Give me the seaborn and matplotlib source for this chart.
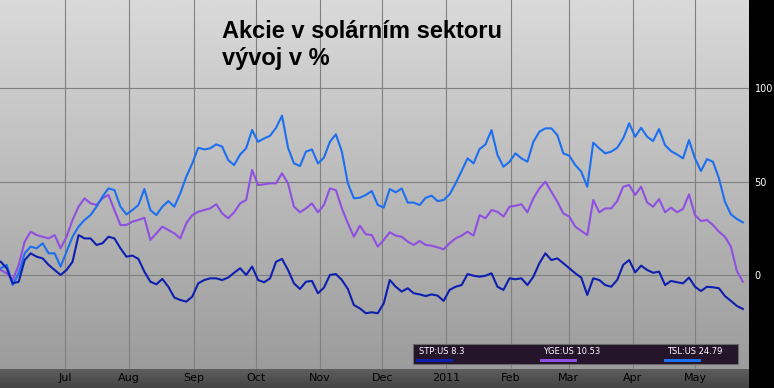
import numpy as np
import pandas as pd
import seaborn as sns
from matplotlib import pyplot as plt
from matplotlib.colors import LinearSegmentedColormap
from matplotlib.patches import Rectangle

# values in % (about every 3 calendar days)
stp = [7.1, 3.6, -4.5, -3.6, 8, 11.6, 9.8, 8.9, 5.4, 2.7, 0, 2.7, 7.1, 21.4, 19.6, 19.6, 16.1, 17, 20.5, 19.6, 14.3,
       9.8, 10.4, 8.6, 1.8, -3.6, -5, -2.1, -6.3, -12.1, -13.4, -14.3, -11.6, -4.5, -2.7, -1.8, -1.8, -2.7, -1.4, 1.2, 3.6, 0,
       4.5, -2.7, -3.9, -1.8, 7.1, 8.6, 2.7, -4.5, -7.5, -3.6, -3.2, -9.8, -6.8, 0, 0.5, -2.7, -7.5, -16.1, -17.9, -20.5, -20,
       -20.5, -15.2, -2.7, -6.3, -8.9, -7.1, -9.8, -10.4, -11.3, -10.4, -11.1, -13.9, -8, -6.3, -5.4, 0.5, -0.4, -0.9, -0.4, 0.9, -6.3,
       -8, -1.8, -2.3, -1.8, -5.4, -0.9, 6.3, 11.6, 8, 8.9, 6.3, 3.6, 0.9, -1.4, -10.7, -1.8, -2.7, -5.4, -6.3, -2.7, 5.4,
       8, 1.4, 5, 2.7, 1.2, 1.8, -5.4, -3.2, -3.9, -4.5, -1.4, -6.3, -8.6, -6.3, -6.6, -7.1, -11.3, -13.9, -16.6, -18.2]
yge = [2.7, 0.9, -2.7, 5.4, 17.9, 23.2, 21.4, 20.5, 19.6, 21.4, 14.3, 20.5, 29.5, 36.6, 41.1, 38.4, 37.5, 41.1, 42.9, 34.8, 26.8,
       26.8, 28.6, 29.5, 30.7, 18.8, 22.3, 25.9, 24.1, 22.3, 19.6, 27.7, 32.1, 33.9, 34.8, 35.7, 37.9, 33, 30.4, 33.6, 38.4, 40.2,
       56.3, 48.2, 48.6, 49.1, 49.1, 54.5, 49.1, 36.6, 33.6, 35.7, 38.4, 33.6, 37.5, 46.4, 45.5, 35.7, 27.7, 20.5, 26.4, 21.8, 21.4,
       15.2, 18.8, 22.9, 21.1, 20.5, 17.9, 16.1, 18.2, 16.1, 15.7, 14.8, 13.8, 17, 19.6, 21.1, 23.2, 21.1, 32.1, 30.4, 34.8, 33.9,
       31.3, 36.6, 37.1, 37.9, 33.6, 41.1, 46.4, 50, 44.6, 39.3, 33, 31.3, 25.9, 23.6, 21.4, 40.2, 33.6, 35.7, 35.7, 39.6, 47.3,
       48.2, 42.9, 47.3, 38.9, 36.6, 40.7, 33.6, 36.1, 33.6, 35.4, 43.2, 32.1, 28.9, 29.5, 26.8, 23.2, 20.5, 15.2, 2.1, -3.6]
tsl = [3.6, 5.4, -5.4, 0.9, 11.6, 15.2, 14.3, 17, 11.6, 11.6, 4.5, 12.5, 20.5, 25.9, 29.5, 32.1, 36.6, 42, 46.4, 45.5, 36.6,
       32.5, 34.8, 37.5, 46.1, 34.8, 32.1, 36.6, 39.6, 36.6, 43.8, 52.7, 59.8, 68.2, 67.3, 67.9, 70, 68.8, 61.6, 58.9, 64.6, 67.9,
       77.7, 71.4, 73.2, 74.6, 78.9, 85.4, 68.2, 59.8, 58.4, 66.1, 67.3, 59.8, 62.9, 71.4, 75.4, 66.1, 49.1, 41.1, 41.4, 42.9, 45,
       37.5, 36.1, 46.1, 44.3, 46.4, 38.8, 38.8, 37.5, 41.4, 42.5, 39.6, 40.2, 43.2, 49.1, 55.7, 62.5, 59.8, 67.5, 70, 77.7, 64.3,
       58, 60.7, 65.2, 62.5, 60.7, 71.4, 76.8, 78.6, 78.6, 75, 65.2, 63.9, 58.9, 55.4, 47.3, 70.9, 67.9, 65.2, 66.1, 68.2, 73.2,
       81.3, 74.1, 78.9, 74.1, 71.8, 78.2, 69.6, 66.4, 64.6, 62.5, 72.3, 62.5, 55.7, 62.1, 60.7, 51.8, 39.3, 32.5, 30, 28.2]
dates = pd.date_range("2010-05-31", "2011-05-24", periods=len(stp))

tickers = ["STP:US", "YGE:US", "TSL:US"]
last_prices = ["8.3", "10.53", "24.79"]
colors = ["#0d1fb0", "#8f4fe0", "#1c6ff0"]
month_starts = pd.date_range("2010-07-01", "2011-05-01", freq="MS")
month_labels = ["Jul", "Aug", "Sep", "Oct", "Nov", "Dec", "2011", "Feb", "Mar", "Apr", "May"]

df = pd.DataFrame({"date": np.tile(dates, 3),
                   "pct": stp + yge + tsl,
                   "ticker": np.repeat(tickers, len(stp))})

W, H = 774, 388
fig = plt.figure(figsize=(W / 100, H / 100), dpi=100, facecolor="black")

# dark bar under the plot (own axes so it sits behind the tick labels)
bar = fig.add_axes([0, 0, 749 / W, 19 / H], zorder=0)
bar.imshow(np.linspace(0, 1, 64).reshape(-1, 1), extent=[0, 1, 0, 1], aspect="auto",
           cmap=LinearSegmentedColormap.from_list("bar", ["#5e5e5e", "#444444"]))
bar.axis("off")

ax = fig.add_axes([0, 19 / H, 749 / W, 369 / H], zorder=1)

# gray gradient background
ax.imshow(np.linspace(0, 1, 256).reshape(-1, 1), extent=[0, 1, 0, 1], transform=ax.transAxes,
          aspect="auto", cmap=LinearSegmentedColormap.from_list("bg", ["#dadada", "#9c9c9c"]), zorder=0)

for t in month_starts:
    ax.axvline(t, color="#808080", lw=0.8, zorder=1)
for v in [0, 50, 100]:
    ax.axhline(v, color="#808080", lw=0.8, zorder=1)

for tk, c in zip(["YGE:US", "TSL:US", "STP:US"], [colors[1], colors[2], colors[0]]):
    sns.lineplot(data=df[df.ticker == tk], x="date", y="pct", color=c, lw=1.5, ax=ax, zorder=3, legend=False)

x0 = pd.Timestamp("2010-07-01") - pd.Timedelta(days=65 / 2.073)
ax.set_xlim(x0, x0 + pd.Timedelta(days=749 / 2.073))
ax.set_ylim(-50.4, 147.4)
ax.set_xticks(month_starts)
ax.set_xticklabels(month_labels, fontsize=8, color="black")
ax.yaxis.tick_right()
ax.set_yticks([0, 50, 100])
ax.set_yticklabels(["0", "50", "100"], fontsize=7, color="white")
ax.tick_params(axis="x", length=0, pad=3)
ax.tick_params(axis="y", length=0, pad=4)
ax.set_xlabel("")
ax.set_ylabel("")
for s in ax.spines.values():
    s.set_visible(False)

# title
fig.text(222 / W, 1 - 31 / H, "Akcie v solárním sektoru", fontsize=17, fontweight="bold",
         family="Liberation Sans", va="center", ha="left")
fig.text(222 / W, 1 - 58 / H, "vývoj v %", fontsize=17, fontweight="bold",
         family="Liberation Sans", va="center", ha="left")

# legend box
fig.patches.append(Rectangle((413 / W, 1 - 364 / H), 325 / W, 20 / H, transform=fig.transFigure,
                             facecolor="#24152a", edgecolor="#6a6a6a", lw=0.8, zorder=5))
for i, (tk, p, c) in enumerate(zip(tickers, last_prices, colors)):
    lx = 416 + i * 124
    fig.text((lx + 3) / W, 1 - 352 / H, f"{tk} {p}", fontsize=6, color="white",
             va="center", ha="left", zorder=6)
    fig.patches.append(Rectangle((lx / W, 1 - 362 / H), 37 / W, 3 / H, transform=fig.transFigure,
                                 facecolor=c, edgecolor="none", zorder=6))

fig.savefig("out.png", dpi=100, facecolor="black")
